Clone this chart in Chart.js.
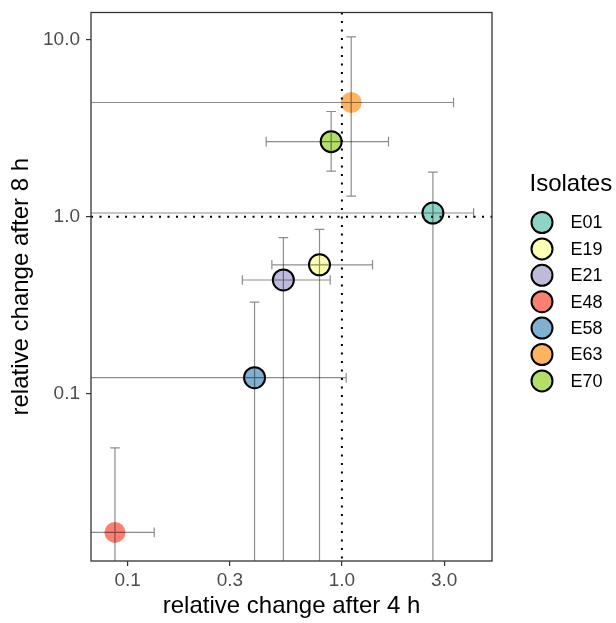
<!DOCTYPE html>
<html>
<head>
<meta charset="utf-8">
<script src="https://cdn.jsdelivr.net/npm/chart.js@4"></script>
<style>
    html, body { margin: 0; padding: 0; background: #ffffff; }
    #wrap { width: 616px; height: 623px; }
</style>
</head>
<body>
<div id="wrap"><canvas id="isolateChart" width="616" height="623"></canvas></div>
<script>
// isolates and their colours (Set3)
const isolates = ['E01', 'E19', 'E21', 'E48', 'E58', 'E63', 'E70'];
const isolateColors = ['#8DD3C7', '#FFFFB3', '#BEBADA', '#FB8072', '#80B1D3', '#FDB462', '#B3DE69'];
const hasOutline = [true, true, true, false, true, false, true];

// relative change after 4 h (x) with its interval
const change4h = [2.66, 0.786, 0.533, 0.0872, 0.391, 1.105, 0.891];
const lower4h = [0.04, 0.471, 0.343, 0.04, 0.04, 0.04, 0.443];
const upper4h = [4.12, 1.39, 0.882, 0.133, 1.047, 3.32, 1.65];

// relative change after 8 h (y) with its interval
const change8h = [1.05, 0.535, 0.439, 0.0164, 0.123, 4.43, 2.66];
const lower8h = [0.005, 0.005, 0.005, 0.005, 0.005, 1.31, 1.81];
const upper8h = [1.79, 0.849, 0.762, 0.0493, 0.329, 10.4, 3.94];

// axes
const xTicks = [0.1, 0.3, 1, 3];
const xTickLabels = ['0.1', '0.3', '1.0', '3.0'];
const yTicks = [0.1, 1, 10];
const yTickLabels = ['0.1', '1.0', '10.0'];
const xRange = [0.0674, 5.02];
const yRange = [0.0113, 14.3];
const refValue = 1;

const FONT = '"Liberation Sans", Arial, sans-serif';

// error bars, reference lines and panel border
const overlayPlugin = {
    id: 'overlay',
    afterDatasetsDraw(chart) {
        const {ctx, chartArea: area, scales: {x, y}} = chart;
        const cap = 4.8;

        ctx.save();
        ctx.beginPath();
        ctx.rect(area.left, area.top, area.right - area.left, area.bottom - area.top);
        ctx.clip();

        // error bars
        ctx.strokeStyle = 'rgba(0,0,0,0.45)';
        ctx.lineWidth = 1.2;
        isolates.forEach((name, i) => {
            const px = x.getPixelForValue(change4h[i]);
            const py = y.getPixelForValue(change8h[i]);
            const xl = x.getPixelForValue(lower4h[i]);
            const xh = x.getPixelForValue(upper4h[i]);
            const yl = y.getPixelForValue(lower8h[i]);
            const yh = y.getPixelForValue(upper8h[i]);
            ctx.beginPath();
            ctx.moveTo(xl, py); ctx.lineTo(xh, py);
            ctx.moveTo(xl, py - cap); ctx.lineTo(xl, py + cap);
            ctx.moveTo(xh, py - cap); ctx.lineTo(xh, py + cap);
            ctx.moveTo(px, yl); ctx.lineTo(px, yh);
            ctx.moveTo(px - cap, yl); ctx.lineTo(px + cap, yl);
            ctx.moveTo(px - cap, yh); ctx.lineTo(px + cap, yh);
            ctx.stroke();
        });

        // dotted reference lines at 1
        const rx = x.getPixelForValue(refValue);
        const ry = y.getPixelForValue(refValue);
        ctx.strokeStyle = '#000000';
        ctx.lineWidth = 2;
        ctx.setLineDash([2, 6.5]);
        ctx.beginPath();
        ctx.moveTo(rx, area.top); ctx.lineTo(rx, area.bottom);
        ctx.moveTo(area.left, ry); ctx.lineTo(area.right, ry);
        ctx.stroke();
        ctx.restore();

        // panel border
        ctx.save();
        ctx.strokeStyle = '#333333';
        ctx.lineWidth = 1.3;
        ctx.strokeRect(area.left, area.top, area.right - area.left, area.bottom - area.top);
        ctx.restore();
    }
};

// legend on the right, ggplot style
const isolateLegend = {
    id: 'isolateLegend',
    afterDraw(chart) {
        const {ctx, chartArea: area} = chart;
        const left = area.right + 37.5;
        ctx.save();
        ctx.fillStyle = '#000000';
        ctx.textAlign = 'left';
        ctx.textBaseline = 'middle';
        ctx.font = '24px ' + FONT;
        ctx.fillText('Isolates', left, area.top + 172);

        ctx.font = '18px ' + FONT;
        chart.data.datasets.forEach((ds, i) => {
            const cy = area.top + 210 + i * 26.4;
            ctx.beginPath();
            ctx.arc(left + 12.5, cy, 10.5, 0, Math.PI * 2);
            ctx.fillStyle = ds.backgroundColor;
            ctx.fill();
            ctx.lineWidth = 2;
            ctx.strokeStyle = '#000000';
            ctx.stroke();
            ctx.fillStyle = '#000000';
            ctx.fillText(ds.label, left + 41, cy + 1);
        });
        ctx.restore();
    }
};

function initChart() {
    const ctx = document.getElementById('isolateChart').getContext('2d');
    const datasets = isolates.map((name, i) => ({
        label: name,
        data: [{x: change4h[i], y: change8h[i]}],
        backgroundColor: isolateColors[i],
        borderColor: '#000000',
        borderWidth: hasOutline[i] ? 2 : 0,
        pointRadius: 10.5,
        pointHoverRadius: 10.5
    }));

    new Chart(ctx, {
        type: 'scatter',
        data: {datasets: datasets},
        options: {
            responsive: false,
            animation: false,
            layout: {padding: {top: 8, right: 124, bottom: 0, left: 0}},
            plugins: {
                legend: {display: false},
                tooltip: {enabled: false}
            },
            scales: {
                x: {
                    type: 'logarithmic',
                    min: xRange[0],
                    max: xRange[1],
                    afterBuildTicks: scale => { scale.ticks = xTicks.map(v => ({value: v})); },
                    afterFit: scale => {
                        scale.height = 62;
                        scale.paddingLeft = 0;
                        scale.paddingRight = 0;
                    },
                    ticks: {
                        autoSkip: false,
                        maxRotation: 0,
                        padding: 3,
                        color: '#4D4D4D',
                        font: {family: FONT, size: 19},
                        callback: (value, index) => xTickLabels[index]
                    },
                    grid: {drawOnChartArea: false, tickLength: 5, color: '#333333', lineWidth: 1.2},
                    border: {display: false},
                    title: {
                        display: true,
                        text: 'relative change after 4 h',
                        color: '#000000',
                        font: {family: FONT, size: 24},
                        padding: {top: 0, bottom: 2}
                    }
                },
                y: {
                    type: 'logarithmic',
                    min: yRange[0],
                    max: yRange[1],
                    afterBuildTicks: scale => { scale.ticks = yTicks.map(v => ({value: v})); },
                    afterFit: scale => {
                        scale.width = 91;
                        scale.paddingTop = 0;
                        scale.paddingBottom = 0;
                    },
                    ticks: {
                        autoSkip: false,
                        padding: 6,
                        color: '#4D4D4D',
                        font: {family: FONT, size: 19},
                        callback: (value, index) => yTickLabels[index]
                    },
                    grid: {drawOnChartArea: false, tickLength: 5, color: '#333333', lineWidth: 1.2},
                    border: {display: false},
                    title: {
                        display: true,
                        text: 'relative change after 8 h',
                        color: '#000000',
                        font: {family: FONT, size: 24},
                        padding: {top: 7, bottom: 0}
                    }
                }
            }
        },
        plugins: [overlayPlugin, isolateLegend]
    });
}

document.addEventListener('DOMContentLoaded', initChart);
</script>
</body>
</html>
